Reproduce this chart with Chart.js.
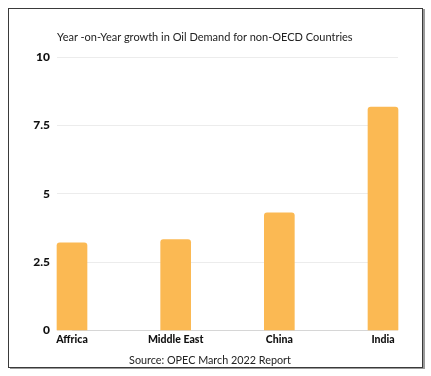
<!DOCTYPE html>
<html>
<head>
<meta charset="utf-8">
<script src="https://cdn.jsdelivr.net/npm/chart.js@4"></script>
<style>
  body { margin: 0; background: #fff; }
  #wrap { position: relative; width: 431px; height: 376px; }
  #frame {
    position: absolute; left: 8px; top: 8px; width: 413px; height: 358px;
    border: 1px solid #3a3a3a; box-shadow: 2px 1px 0 #9a9a9a;
  }
  #chart { position: absolute; left: 0; top: 0; }
  .txt { position: absolute; font-family: Lato, sans-serif; color: #222; white-space: nowrap; }
  #title { left: 57px; top: 30px; font-size: 11px; }
  #source { left: 0; width: 420px; text-align: center; top: 353px; font-size: 10.8px; }
</style>
</head>
<body>
<div id="wrap">
  <div id="frame"></div>
  <canvas id="chart" width="431" height="376"></canvas>
  <div class="txt" id="title">Year -on-Year growth in Oil Demand for non-OECD Countries</div>
  <div class="txt" id="source">Source: OPEC March 2022 Report</div>
</div>
<script>
// data
const regions = ['Affrica', 'Middle East', 'China', 'India'];
const growth = [3.2, 3.32, 4.3, 8.17];
const yTicks = [0, 2.5, 5, 7.5, 10];

const ctx = document.getElementById('chart').getContext('2d');

new Chart(ctx, {
    type: 'bar',
    data: {
        labels: regions,
        datasets: [{
            data: growth,
            backgroundColor: '#fbb953',
            borderRadius: { topLeft: 3, topRight: 3 },
            borderSkipped: 'bottom',
            barThickness: 30,
            clip: false
        }]
    },
    options: {
        responsive: false,
        animation: false,
        layout: { padding: { left: 24, right: 33, top: 57, bottom: 27 } },
        plugins: {
            legend: { display: false },
            tooltip: { enabled: false }
        },
        scales: {
            x: {
                offset: false,
                grid: { display: false, drawTicks: false },
                border: { color: '#d6d6d6' },
                ticks: {
                    color: '#111',
                    padding: 3,
                    maxRotation: 0,
                    font: { family: 'Lato', weight: 900, size: 10.5 }
                }
            },
            y: {
                min: 0,
                max: 10,
                afterBuildTicks: (scale) => {
                    scale.ticks = yTicks.map(v => ({ value: v }));
                },
                afterFit: (scale) => { scale.width = 48; },
                grid: { color: '#ececec', tickLength: 15, tickColor: '#ececec' },
                border: { display: false },
                ticks: {
                    color: '#111',
                    padding: 7,
                    font: { family: 'Lato', weight: 900, size: 12 },
                    callback: (v) => String(v)
                }
            },
            y2: {
                position: 'right',
                min: 0,
                max: 10,
                afterBuildTicks: (scale) => {
                    scale.ticks = yTicks.map(v => ({ value: v }));
                },
                afterFit: (scale) => { scale.width = 15; },
                grid: { drawOnChartArea: false, tickLength: 15, tickColor: '#ececec' },
                border: { display: false },
                ticks: { display: false }
            }
        }
    }
});
</script>
</body>
</html>
